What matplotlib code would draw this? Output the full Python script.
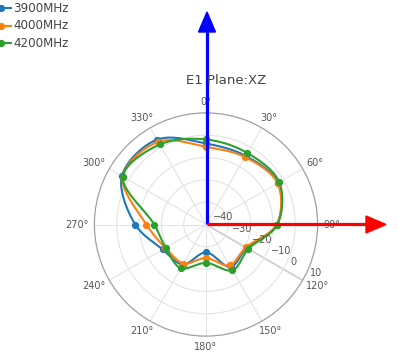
import numpy as np
import matplotlib
matplotlib.use("Agg")
import matplotlib.pyplot as plt
from matplotlib.transforms import offset_copy
from matplotlib.lines import Line2D
from matplotlib.patches import Polygon

# ---- data ----
angles_deg = [0, 30, 60, 90, 120, 150, 180, 210, 240, 270, 300, 330]
gain_3900 = [-3.7, -4.5, -2.7, -8.2, -19.0, -18.0, -27.5, -19.3, -17.6, -8.3, 3.5, 3.9]
gain_4000 = [-5.2, -5.1, -3.0, -8.3, -19.4, -18.9, -25.0, -19.8, -19.0, -13.3, 3.0, 2.8]
gain_4200 = [-1.9, -3.0, -2.1, -8.0, -18.1, -16.3, -22.8, -17.4, -19.2, -16.8, 3.0, 1.4]
series_names = ["3900MHz", "4000MHz", "4200MHz"]
series_colors = ["#1f77b4", "#ff7f0e", "#2ca02c"]
r_range = [-40, 10]
r_ticks = [-40, -30, -20, -10, 0, 10]
theta_ticks = list(range(0, 360, 30))
title = "E1 Plane:XZ"


def spline_polar(theta_deg, r, rmin, smooth=1.0, n=24):
    """Closed cardinal spline drawn in screen space (plotly 'spline' line shape)."""
    th = np.deg2rad(np.asarray(theta_deg, float))
    rr = np.asarray(r, float) - rmin
    P = np.column_stack([rr * np.sin(th), rr * np.cos(th)])
    m = len(P)
    tin, tout = [], []
    for i in range(m):
        prev, this, nxt = P[i - 1], P[i], P[(i + 1) % m]
        d1 = prev - this
        d2 = nxt - this
        d1a = np.hypot(*d1) ** 0.5
        d2a = np.hypot(*d2) ** 0.5
        num = (d2a * d2a * d1 - d1a * d1a * d2) * smooth
        den1 = 3 * d2a * (d1a + d2a)
        den2 = 3 * d1a * (d1a + d2a)
        tin.append(this + num / den1)
        tout.append(this - num / den2)
    t = np.linspace(0, 1, n, endpoint=False)[:, None]
    pts = []
    for i in range(m):
        p0, c1, c2, p3 = P[i], tout[i], tin[(i + 1) % m], P[(i + 1) % m]
        seg = ((1 - t) ** 3) * p0 + 3 * ((1 - t) ** 2) * t * c1 + 3 * (1 - t) * t * t * c2 + t ** 3 * p3
        pts.append(seg)
    pts.append(P[:1])
    pts = np.vstack(pts)
    return np.arctan2(pts[:, 0], pts[:, 1]), np.hypot(pts[:, 0], pts[:, 1]) + rmin


W, H = 398, 361
fig = plt.figure(figsize=(W / 100, H / 100), dpi=100)
cx, cy, R = 206, 224.5, 111.6
ax = fig.add_axes([(cx - R) / W, (H - cy - R) / H, 2 * R / W, 2 * R / H], projection="polar")
ax.set_theta_zero_location("N")
ax.set_theta_direction(-1)
ax.set_ylim(*r_range)
ax.set_rgrids(r_ticks[1:-1], labels=[""] * (len(r_ticks) - 2))
ax.set_thetagrids(theta_ticks, labels=[""] * len(theta_ticks))
ax.grid(True, color="#e3e3e3", lw=0.8)
ax.spines["polar"].set_color("#a0a0a0")
ax.spines["polar"].set_linewidth(0.9)
ax.tick_params(axis="x", direction="out", length=4, color="#a0a0a0", width=0.9, pad=0)
ax.tick_params(axis="y", length=0)
ax.set_facecolor("white")

# radial axis line at 120 deg
ax.plot([np.deg2rad(120)] * 2, r_range, color="#777777", lw=0.9, zorder=1.5)

# series
for vals, name, col in zip([gain_3900, gain_4000, gain_4200], series_names, series_colors):
    sth, sr = spline_polar(angles_deg, vals, r_range[0])
    ax.plot(sth, sr, color=col, lw=1.5, zorder=3, clip_on=False)
    ax.plot(np.deg2rad(angles_deg), vals, color=col, lw=0, marker="o", markersize=4.2,
            zorder=3.1, clip_on=False)

# radial tick labels
for v in r_ticks:
    lab = str(v).replace("-", "\u2212")
    tr = offset_copy(ax.transData, fig=fig, x=7, y=7, units="dots")
    ax.text(np.deg2rad(120), v, lab, transform=tr, ha="left", va="center",
            fontsize=7, color="#555555", zorder=4)

# angular tick labels (continuous anchoring like plotly)
fig.canvas.draw()
renderer = fig.canvas.get_renderer()
gap = 6
for a in theta_ticks:
    t = ax.text(np.deg2rad(a), r_range[1], f"{a}\u00b0", ha="center", va="center",
                fontsize=7, color="#555555", clip_on=False)
    bb = t.get_window_extent(renderer)
    w, h = bb.width, bb.height
    dx, dy = np.sin(np.deg2rad(a)), np.cos(np.deg2rad(a))
    ox = dx * gap + dx * w / 2
    oy = dy * gap + dy * h / 2
    t.set_transform(offset_copy(ax.transData, fig=fig, x=ox, y=oy, units="dots"))

# title
fig.text(226 / W, 1 - 80.5 / H, title, ha="center", va="center", fontsize=9.5, color="#444444")

# legend (partially cut at left edge)
leg_y = [8.3, 25.7, 43.3]
for name, col, yy in zip(series_names, series_colors, leg_y):
    fy = 1 - yy / H
    fig.add_artist(Line2D([-10 / W, 11 / W], [fy, fy], color=col, lw=1.5, transform=fig.transFigure))
    fig.add_artist(Line2D([0.8 / W], [fy], color=col, marker="o", markersize=4.2, lw=0,
                          transform=fig.transFigure))
    fig.text(13.3 / W, fy, name, ha="left", va="center", fontsize=8.6, color="#444444")

# axes arrows
ax_c = 207
blue_tip, red_tip = 12, 386
head_len, head_half = 20, 8.5
fig.add_artist(Line2D([ax_c / W, ax_c / W], [1 - cy / H, 1 - (blue_tip + head_len - 1) / H],
                      color="#0000ff", lw=2.3, transform=fig.transFigure, solid_capstyle="butt"))
fig.add_artist(Polygon([[(ax_c - head_half) / W, 1 - (blue_tip + head_len) / H],
                        [(ax_c + head_half) / W, 1 - (blue_tip + head_len) / H],
                        [ax_c / W, 1 - blue_tip / H]], closed=True, color="#0000ff",
                       transform=fig.transFigure))
fig.add_artist(Line2D([ax_c / W, (red_tip - head_len + 1) / W], [1 - cy / H, 1 - cy / H],
                      color="#ff0000", lw=2.3, transform=fig.transFigure, solid_capstyle="butt"))
fig.add_artist(Polygon([[(red_tip - head_len) / W, 1 - (cy - head_half) / H],
                        [(red_tip - head_len) / W, 1 - (cy + head_half) / H],
                        [red_tip / W, 1 - cy / H]], closed=True, color="#ff0000",
                       transform=fig.transFigure))

fig.savefig("out.png", dpi=100, facecolor="white")
